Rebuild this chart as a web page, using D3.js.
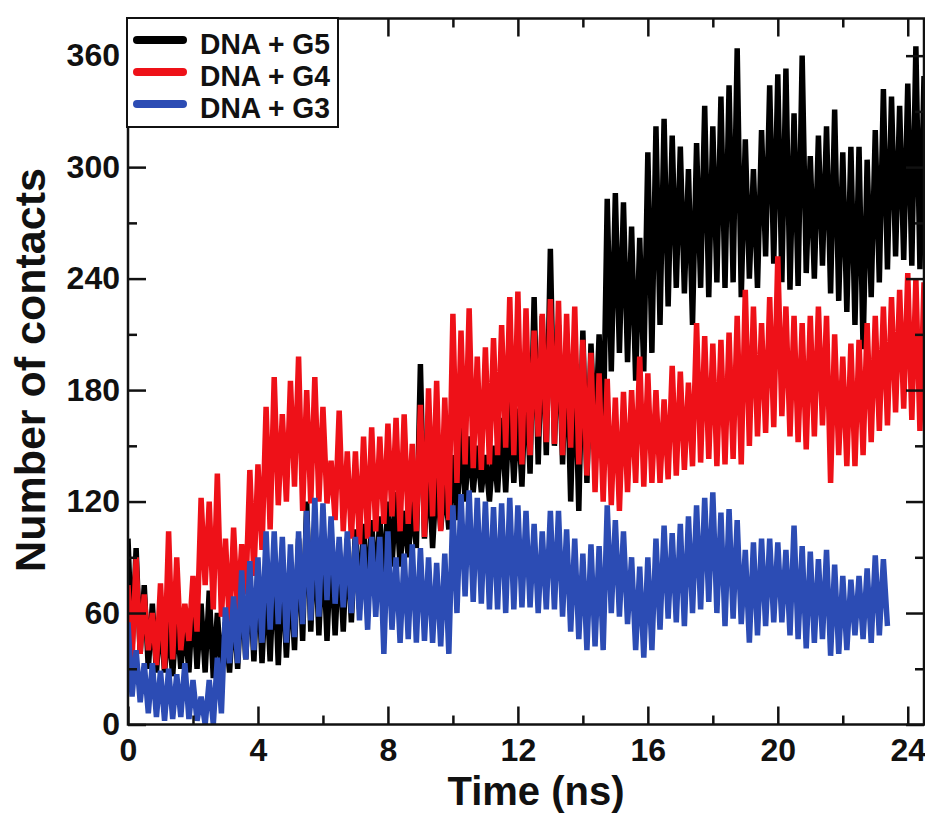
<!DOCTYPE html>
<html>
<head>
<meta charset="utf-8">
<script src="https://cdn.jsdelivr.net/npm/d3@7"></script>
<style>
  body { margin: 0; background: #fff; }
  text { font-family: "Liberation Sans", Arial, Helvetica, sans-serif; font-weight: bold; }
</style>
</head>
<body>
<svg></svg>
<script>
// time step of the readings (ns); each step has a peak (hi) and a trough (lo)
var step = 0.25;

// DNA + G5, t = 0 .. 24.5 ns
var g5Hi = [100,95,75,65,60,55,60,55,70,65,72,60,
  55,65,75,80,85,80,90,85,80,100,120,105,
  100,98,95,100,105,108,110,112,120,125,115,120,
  194,140,135,130,145,160,155,150,145,150,165,175,
  170,190,230,220,256,215,205,200,212,205,210,283,
  286,281,268,262,308,322,326,317,311,299,313,333,
  322,338,344,364,315,299,320,344,350,353,329,360,
  306,317,322,331,308,311,311,304,320,342,338,333,
  345,365,349];
var g5Lo = [40,38,30,28,28,26,30,28,30,28,25,28,
  28,30,35,34,33,34,32,36,40,45,50,48,
  45,48,50,55,62,66,70,75,85,85,90,95,
  100,95,105,105,110,120,125,125,120,125,125,130,
  128,135,140,145,150,140,120,115,130,150,150,190,
  200,195,185,190,200,215,225,235,232,215,235,230,
  238,235,238,230,240,235,252,248,238,234,236,243,
  240,247,232,228,222,215,202,230,238,245,252,250,
  247,245,250];

// DNA + G4, t = 0 .. 24.5 ns
var g4Hi = [75,90,70,60,76,104,90,65,80,122,120,135,
  100,106,97,137,140,171,187,167,185,198,180,187,
  171,142,169,147,147,155,160,155,162,165,167,151,
  172,181,185,176,221,212,224,198,203,208,215,230,
  233,224,212,221,229,228,221,225,207,200,189,186,
  176,179,180,198,189,180,175,193,190,184,216,209,
  205,207,211,220,234,225,216,230,252,225,220,216,
  220,225,220,210,198,205,207,216,220,225,230,234,
  243,240,238];
var g4Lo = [35,38,40,32,30,35,40,45,50,75,62,58,
  52,60,70,80,94,105,118,120,128,115,119,120,
  119,110,104,100,97,100,104,108,112,104,108,104,
  101,112,104,110,130,140,138,137,140,145,149,145,
  140,145,155,152,151,145,149,140,134,125,120,118,
  115,125,130,128,130,130,132,134,137,139,141,143,
  139,140,143,140,150,155,157,160,166,155,152,148,
  155,161,130,145,139,139,145,152,158,161,168,170,
  164,158,152];

// DNA + G3, t = 0 .. 23.25 ns
var g3Hi = [55,40,33,33,29,30,27,33,24,15,24,36,
  63,69,83,88,90,104,104,101,97,104,115,122,
  119,112,101,104,101,97,101,101,104,90,92,97,
  95,90,87,92,118,124,126,122,120,117,119,122,
  118,115,108,104,115,115,105,100,92,97,96,118,
  110,104,90,85,90,100,107,103,108,112,118,122,
  125,114,116,110,94,98,100,100,98,94,107,96,
  93,89,94,86,80,78,80,84,91,89];
var g3Lo = [15,12,6,4,2,3,4,3,2,0,0,6,
  33,33,35,40,44,51,54,44,47,54,56,58,
  67,65,63,60,56,51,58,38,51,44,46,44,
  45,44,42,38,60,69,66,65,62,62,60,62,
  63,63,60,62,62,58,50,46,40,42,40,60,
  58,54,40,36,40,51,57,55,53,60,62,66,
  60,53,57,54,44,48,53,55,55,48,46,41,
  44,46,37,38,40,48,46,44,48,53];

var names = ['DNA + G5', 'DNA + G4', 'DNA + G3'];
var colors = ['#000000', '#ee1118', '#2c4cb4'];
var xTicks = [0, 4, 8, 12, 16, 20, 24];
var xMinor = [2, 6, 10, 14, 18, 22];
var yTicks = [0, 60, 120, 180, 240, 300, 360];
var yMinor = [30, 90, 150, 210, 270, 330];

var series = [
  { name: names[0], color: colors[0], hi: g5Hi, lo: g5Lo },
  { name: names[1], color: colors[1], hi: g4Hi, lo: g4Lo },
  { name: names[2], color: colors[2], hi: g3Hi, lo: g3Lo }
];

var width = 925, height = 814;
var svg = d3.select('svg').attr('width', width).attr('height', height);

var x = d3.scaleLinear().domain([0, 24.5]).range([128, 924]);
var y = d3.scaleLinear().domain([0, 380]).range([724.5, 18.5]);

svg.append('rect').attr('width', width).attr('height', height).attr('fill', '#fff');

svg.append('clipPath').attr('id', 'plot')
  .append('rect')
  .attr('x', x(0)).attr('y', y(380))
  .attr('width', x(24.5) - x(0)).attr('height', y(0) - y(380));

// peak / trough pairs -> one noisy trace
function trace(hi, lo) {
  var pts = [];
  hi.forEach(function (h, i) {
    pts.push([i * step, h]);
    pts.push([i * step + step / 2, lo[i]]);
  });
  return pts;
}

var line = d3.line()
  .x(function (d) { return x(d[0]); })
  .y(function (d) { return y(d[1]); });

svg.append('g').attr('clip-path', 'url(#plot)')
  .selectAll('path').data(series).enter()
  .append('path')
  .attr('d', function (d) { return line(trace(d.hi, d.lo)); })
  .attr('fill', 'none')
  .attr('stroke', function (d) { return d.color; })
  .attr('stroke-width', 5.5)
  .attr('stroke-linejoin', 'bevel');

// axes, ticks pointing inward on all four sides
function styleAxis(g) {
  g.select('.domain').remove();
  g.selectAll('.tick line').attr('stroke', '#111').attr('stroke-width', 2.5);
  g.selectAll('.tick text').attr('fill', '#111').style('font-size', '32px');
}

svg.append('g').attr('transform', 'translate(0,' + y(0) + ')')
  .call(d3.axisBottom(x).tickValues(xTicks).tickSizeInner(-18).tickSizeOuter(0)
    .tickPadding(14).tickFormat(d3.format('d')))
  .call(styleAxis);
svg.append('g').attr('transform', 'translate(0,' + y(0) + ')')
  .call(d3.axisBottom(x).tickValues(xMinor).tickSizeInner(-9).tickSizeOuter(0).tickFormat(''))
  .call(styleAxis);
svg.append('g').attr('transform', 'translate(0,' + y(380) + ')')
  .call(d3.axisTop(x).tickValues(xTicks).tickSizeInner(-18).tickSizeOuter(0).tickFormat(''))
  .call(styleAxis);
svg.append('g').attr('transform', 'translate(0,' + y(380) + ')')
  .call(d3.axisTop(x).tickValues(xMinor).tickSizeInner(-9).tickSizeOuter(0).tickFormat(''))
  .call(styleAxis);

svg.append('g').attr('transform', 'translate(' + x(0) + ',0)')
  .call(d3.axisLeft(y).tickValues(yTicks).tickSizeInner(-18).tickSizeOuter(0)
    .tickPadding(8).tickFormat(d3.format('d')))
  .call(styleAxis);
svg.append('g').attr('transform', 'translate(' + x(0) + ',0)')
  .call(d3.axisLeft(y).tickValues(yMinor).tickSizeInner(-9).tickSizeOuter(0).tickFormat(''))
  .call(styleAxis);
svg.append('g').attr('transform', 'translate(' + x(24.5) + ',0)')
  .call(d3.axisRight(y).tickValues(yTicks).tickSizeInner(-18).tickSizeOuter(0).tickFormat(''))
  .call(styleAxis);
svg.append('g').attr('transform', 'translate(' + x(24.5) + ',0)')
  .call(d3.axisRight(y).tickValues(yMinor).tickSizeInner(-9).tickSizeOuter(0).tickFormat(''))
  .call(styleAxis);

// frame
svg.append('rect')
  .attr('x', x(0)).attr('y', y(380))
  .attr('width', x(24.5) - x(0)).attr('height', y(0) - y(380))
  .attr('fill', 'none').attr('stroke', '#111').attr('stroke-width', 2.5);

// axis titles
svg.append('text')
  .attr('x', 536).attr('y', 805)
  .attr('text-anchor', 'middle')
  .style('font-size', '40px').attr('fill', '#111')
  .text('Time (ns)');

svg.append('text')
  .attr('transform', 'translate(45,370) rotate(-90)')
  .attr('text-anchor', 'middle')
  .style('font-size', '43px').attr('fill', '#111')
  .text('Number of contacts');

// legend
var legend = svg.append('g');
legend.append('rect')
  .attr('x', 127).attr('y', 18).attr('width', 211).attr('height', 109)
  .attr('fill', '#fff').attr('stroke', '#111').attr('stroke-width', 2);

var item = legend.selectAll('g.item').data(series).enter()
  .append('g').attr('class', 'item')
  .attr('transform', function (d, i) { return 'translate(0,' + (40 + i * 32) + ')'; });
item.append('line')
  .attr('x1', 137).attr('x2', 183)
  .attr('stroke', function (d) { return d.color; })
  .attr('stroke-width', 8).attr('stroke-linecap', 'round');
item.append('text')
  .attr('x', 200).attr('y', 14)
  .attr('textLength', 130).attr('lengthAdjust', 'spacingAndGlyphs')
  .style('font-size', '30px').attr('fill', '#111')
  .text(function (d) { return d.name; });
</script>
</body>
</html>
